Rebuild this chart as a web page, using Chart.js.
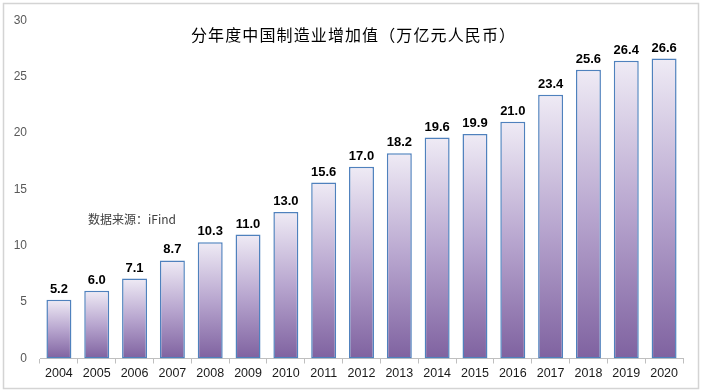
<!DOCTYPE html>
<html>
<head>
<meta charset="utf-8">
<script src="https://cdn.jsdelivr.net/npm/chart.js@4.4.1/dist/chart.umd.min.js"></script>
<style>
  html, body { margin: 0; padding: 0; background: #fff; }
  #wrap { width: 702px; height: 392px; position: relative; }
</style>
</head>
<body>
<div id="wrap"><canvas id="mfgChart" width="702" height="392"></canvas></div>
<script>
// 分年度中国制造业增加值 (万亿元人民币)
const years = ['2004','2005','2006','2007','2008','2009','2010','2011','2012','2013','2014','2015','2016','2017','2018','2019','2020'];
const addedValue = [5.2, 6.0, 7.1, 8.7, 10.3, 11.0, 13.0, 15.6, 17.0, 18.2, 19.6, 19.9, 21.0, 23.4, 25.6, 26.4, 26.6];
const yMin = 0, yMax = 30, yStep = 5;
const chartTitle = '分年度中国制造业增加值（万亿元人民币）';
const sourceNote = '数据来源：iFind';

const barFill = (ctx) => {
    const chart = ctx.chart;
    if (!chart.chartArea || ctx.type !== 'data') return '#a48fc0';
    const ys = chart.scales.y;
    const top = ys.getPixelForValue(ctx.raw);
    const bottom = ys.getPixelForValue(0);
    const g = chart.ctx.createLinearGradient(0, top, 0, bottom);
    g.addColorStop(0, '#efebf5');
    g.addColorStop(0.5, '#b8a6cf');
    g.addColorStop(1, '#7f62a0');
    return g;
};

// 외곽 테두리 + 제목 + 출처 + 값 라벨
const decorPlugin = {
    id: 'decor',
    beforeDraw(chart) {
        const c = chart.ctx;
        c.save();
        c.fillStyle = '#fff';
        c.fillRect(0, 0, chart.width, chart.height);
        c.strokeStyle = '#d4d4d4';
        c.lineWidth = 1.5;
        c.strokeRect(3.5, 3.5, 695, 385);
        c.restore();
    },
    afterDatasetsDraw(chart) {
        const c = chart.ctx;
        c.save();
        c.font = 'bold 13px "Liberation Sans", Arial, sans-serif';
        c.fillStyle = '#000';
        c.textAlign = 'center';
        c.textBaseline = 'bottom';
        chart.getDatasetMeta(0).data.forEach((bar, i) => {
            c.fillText(addedValue[i].toFixed(1), bar.x, bar.y - 4);
        });

        // 제목: 글자 간격을 벌려 참조 폭에 맞춤
        c.font = '16px "Noto Sans CJK SC", sans-serif';
        c.textBaseline = 'middle';
        c.textAlign = 'left';
        const chars = Array.from(chartTitle);
        const natural = c.measureText(chartTitle).width;
        const gap = (324 - natural) / (chars.length - 1);
        let x = 191;
        chars.forEach(ch => {
            c.fillText(ch, x, 35);
            x += c.measureText(ch).width + gap;
        });

        c.font = '12px "Noto Sans CJK SC", "Liberation Sans", sans-serif';
        c.fillStyle = '#404040';
        c.fillText(sourceNote, 88, 219);
        c.restore();
    }
};

new Chart(document.getElementById('mfgChart'), {
    type: 'bar',
    data: {
        labels: years,
        datasets: [{
            data: addedValue,
            backgroundColor: barFill,
            borderColor: '#4f81bd',
            borderWidth: 1.5,
            borderSkipped: false,
            barPercentage: 0.66,
            categoryPercentage: 1.0
        }]
    },
    options: {
        responsive: false,
        animation: false,
        layout: { padding: { top: 20, right: 19, left: 0, bottom: 0 } },
        plugins: { legend: { display: false }, tooltip: { enabled: false }, title: { display: false } },
        scales: {
            x: {
                grid: { display: true, drawOnChartArea: false, drawTicks: true, tickLength: 5, color: '#bfbfbf', offset: true },
                border: { display: true, color: '#bfbfbf', width: 1 },
                ticks: { color: '#1a1a1a', font: { size: 12.5, family: '"Liberation Sans", Arial, sans-serif' }, padding: 3, maxRotation: 0, autoSkip: false },
                afterFit: (s) => { s.height = 33.5; }
            },
            y: {
                min: yMin,
                max: yMax,
                grid: { display: false, drawTicks: false },
                border: { display: false },
                ticks: { stepSize: yStep, color: '#595959', font: { size: 12, family: '"Liberation Sans", Arial, sans-serif' }, padding: 13 },
                afterFit: (s) => { s.width = 40; }
            }
        }
    },
    plugins: [decorPlugin]
});
</script>
</body>
</html>
